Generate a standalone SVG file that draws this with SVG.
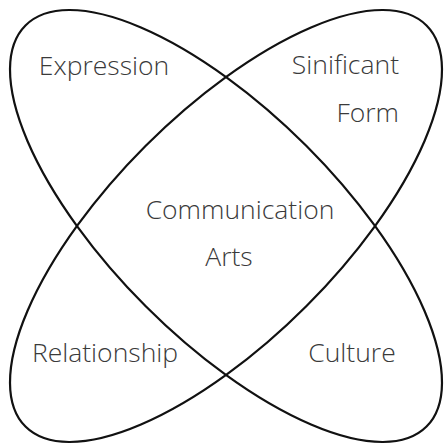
<svg xmlns="http://www.w3.org/2000/svg" width="444" height="446" viewBox="0 0 444 446">
<style>
.e{fill:none;stroke:#111;stroke-width:2.2}
.t{font-family:"Open Sans","Liberation Sans",sans-serif;font-weight:300;font-size:26.5px;fill:#3a3a3a}
</style>
<rect width="444" height="446" fill="#fff"/>
<g id="connectors">
<ellipse id="ellipse-a" class="e" cx="226" cy="226" rx="283.6" ry="113.5" transform="rotate(45 226 226)"/>
<ellipse id="ellipse-b" class="e" cx="226" cy="226" rx="283.6" ry="113.5" transform="rotate(-45 226 226)"/>
</g>
<g id="expression"><text class="t" x="104" y="75" text-anchor="middle">Expression</text></g>
<g id="significant-form"><text class="t" x="399" y="74" text-anchor="end">Sinificant</text><text class="t" x="399" y="122" text-anchor="end">Form</text></g>
<g id="communication-arts"><text class="t" x="240" y="219" text-anchor="middle">Communication</text><text class="t" x="229" y="266" text-anchor="middle">Arts</text></g>
<g id="relationship"><text class="t" x="105" y="362" text-anchor="middle">Relationship</text></g>
<g id="culture"><text class="t" x="352" y="362" text-anchor="middle">Culture</text></g>
</svg>
